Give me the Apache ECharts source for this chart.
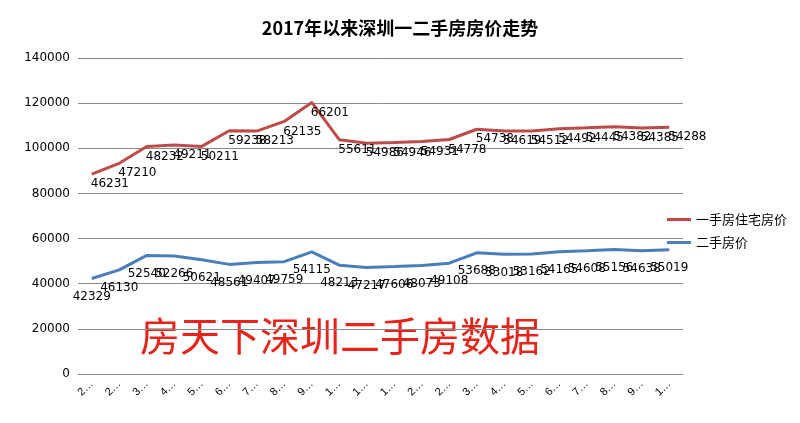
<!DOCTYPE html><html><head><meta charset="utf-8"><script src="https://cdn.jsdelivr.net/npm/echarts@6/dist/echarts.min.js"></script></head><body style="margin:0;background:#fff"><div id="c" style="width:800px;height:423px"></div><script>
const categories=["2017年1月","2月","3月","4月","5月","6月","7月","8月","9月","10月","11月","12月","2018年1月","2月","3月","4月","5月","6月","7月","8月","9月","10月"];
const secondHand=[42329,46130,52540,52266,50621,48561,49407,49759,54115,48213,47217,47606,48073,49108,53688,53018,53162,54165,54608,55156,54638,55019];
const firstHand=[46231,47210,48232,49211,50211,59238,58213,62135,66201,55611,54986,54946,54931,54778,54738,54619,54512,54492,54445,54382,54385,54288];
const chart=echarts.init(document.getElementById('c'));
const lbl={show:true,color:'#000',fontSize:12,fontFamily:'DejaVu Sans'};
chart.setOption({
 animation:false,
 title:{text:'2017年以来深圳一二手房房价走势',left:'center',top:14,textStyle:{fontSize:18,fontWeight:'bold',color:'#000',fontFamily:'Noto Sans CJK SC'}},
 legend:{orient:'vertical',left:662,top:208,itemWidth:24,itemHeight:3,itemGap:10,icon:'rect',textStyle:{fontSize:13,color:'#000',fontFamily:'Noto Sans CJK SC'},data:['一手房住宅房价','二手房价']},
 grid:{left:78,right:117,top:58,bottom:49},
 xAxis:{type:'category',data:categories,boundaryGap:true,axisLine:{lineStyle:{color:'#888'}},axisTick:{show:false},
  axisLabel:{interval:0,rotate:45,fontSize:11,color:'#000',formatter:v=>v[0]+'…'}},
 yAxis:{type:'value',min:0,max:140000,interval:20000,axisLine:{show:false},axisTick:{show:false},splitLine:{lineStyle:{color:'#888'}},axisLabel:{fontSize:12,color:'#000',fontFamily:'DejaVu Sans',formatter:v=>String(v)}},
 graphic:[{type:'text',left:140,top:316,style:{text:'房天下深圳二手房数据',fontSize:40,fontWeight:'normal',fill:'#e8231a',fontFamily:'Noto Sans CJK SC'}}],
 series:[
  {name:'二手房价',type:'line',stack:'t',data:secondHand,symbol:'circle',symbolSize:0.1,showSymbol:true,lineStyle:{color:'#4a7ebb',width:3},itemStyle:{color:'#4a7ebb'},label:Object.assign({position:'bottom',distance:12},lbl)},
  {name:'一手房住宅房价',type:'line',stack:'t',data:firstHand,symbol:'circle',symbolSize:0.1,showSymbol:true,lineStyle:{color:'#be4b48',width:3},itemStyle:{color:'#be4b48'},label:Object.assign({position:'right',offset:[-6,10]},lbl)}
 ]
});
</script></body></html>
